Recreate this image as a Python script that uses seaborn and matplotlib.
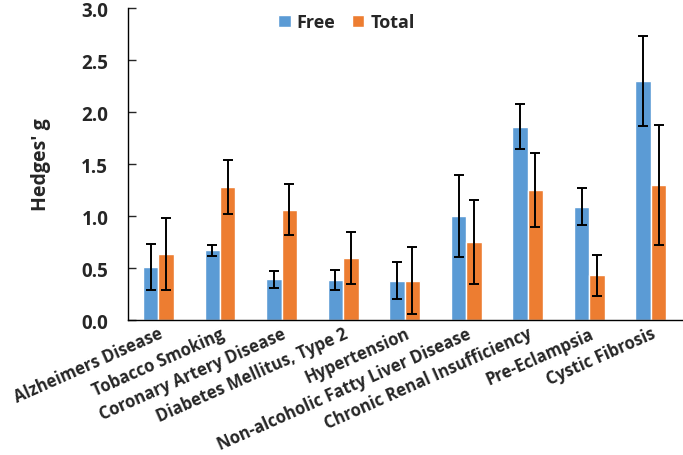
import numpy as np
import pandas as pd
import matplotlib
matplotlib.use("Agg")
import matplotlib.pyplot as plt
import seaborn as sns

# data
diseases = [
    "Alzheimers Disease",
    "Tobacco Smoking",
    "Coronary Artery Disease",
    "Diabetes Mellitus, Type 2",
    "Hypertension",
    "Non-alcoholic Fatty Liver Disease",
    "Chronic Renal Insufficiency",
    "Pre-Eclampsia",
    "Cystic Fibrosis",
]
free_g = [0.51, 0.67, 0.39, 0.385, 0.38, 1.00, 1.86, 1.09, 2.30]
free_err = [0.225, 0.05, 0.085, 0.10, 0.18, 0.395, 0.215, 0.18, 0.435]
total_g = [0.635, 1.28, 1.06, 0.60, 0.38, 0.75, 1.25, 0.43, 1.30]
total_err = [0.345, 0.26, 0.245, 0.25, 0.32, 0.405, 0.355, 0.195, 0.575]

series = ["Free", "Total"]
colors = ["#5B9BD5", "#ED7D31"]

df = pd.DataFrame({
    "Disease": diseases * 2,
    "g": free_g + total_g,
    "Type": ["Free"] * len(diseases) + ["Total"] * len(diseases),
})

sns.set_style("white")
plt.rcParams['font.family'] = ['Open Sans', 'DejaVu Sans']

fig, ax = plt.subplots(figsize=(6.83, 4.56), dpi=100)
fig.subplots_adjust(left=0.187, right=0.998, bottom=0.296, top=0.98)

sns.barplot(data=df, x="Disease", y="g", hue="Type", palette=colors,
            width=0.5, gap=0, errorbar=None, ax=ax, saturation=1)

# error bars on top of each bar
for cont, errs in zip(ax.containers, [free_err, total_err]):
    xs = [p.get_x() + p.get_width() / 2 for p in cont.patches]
    hs = [p.get_height() for p in cont.patches]
    ax.errorbar(xs, hs, yerr=errs, fmt="none", ecolor="black",
                elinewidth=1.4, capsize=3.5, capthick=1.4)

ax.set_xlim(-0.5, len(diseases) - 0.5)
ax.set_ylim(0, 3.0)
ax.set_yticks(np.arange(0, 3.01, 0.5))
ax.set_yticklabels([f"{v:.1f}" for v in np.arange(0, 3.01, 0.5)],
                   fontsize=13.5, fontweight="bold")
ax.tick_params(axis="y", direction="in", length=6, width=1, left=True, pad=14)
ax.tick_params(axis="x", length=0, pad=3)
ax.set_xticks(range(len(diseases)))
ax.set_xticklabels(diseases, rotation=24, ha="right", va="top",
                   rotation_mode="anchor", fontsize=12, fontweight="bold")
ax.set_xlabel("")
ax.set_ylabel("Hedges' g", fontsize=14, fontweight="bold", labelpad=22)

for s in ["top", "right"]:
    ax.spines[s].set_visible(False)
for s in ["left", "bottom"]:
    ax.spines[s].set_color("black")
    ax.spines[s].set_linewidth(1)

ax.legend(loc="upper center", bbox_to_anchor=(0.395, 1.035), ncol=2,
          frameon=False, handlelength=0.7, handleheight=0.7,
          handletextpad=0.35, columnspacing=0.9,
          prop={"weight": "bold", "size": 13})

fig.savefig("out.png", dpi=100)
